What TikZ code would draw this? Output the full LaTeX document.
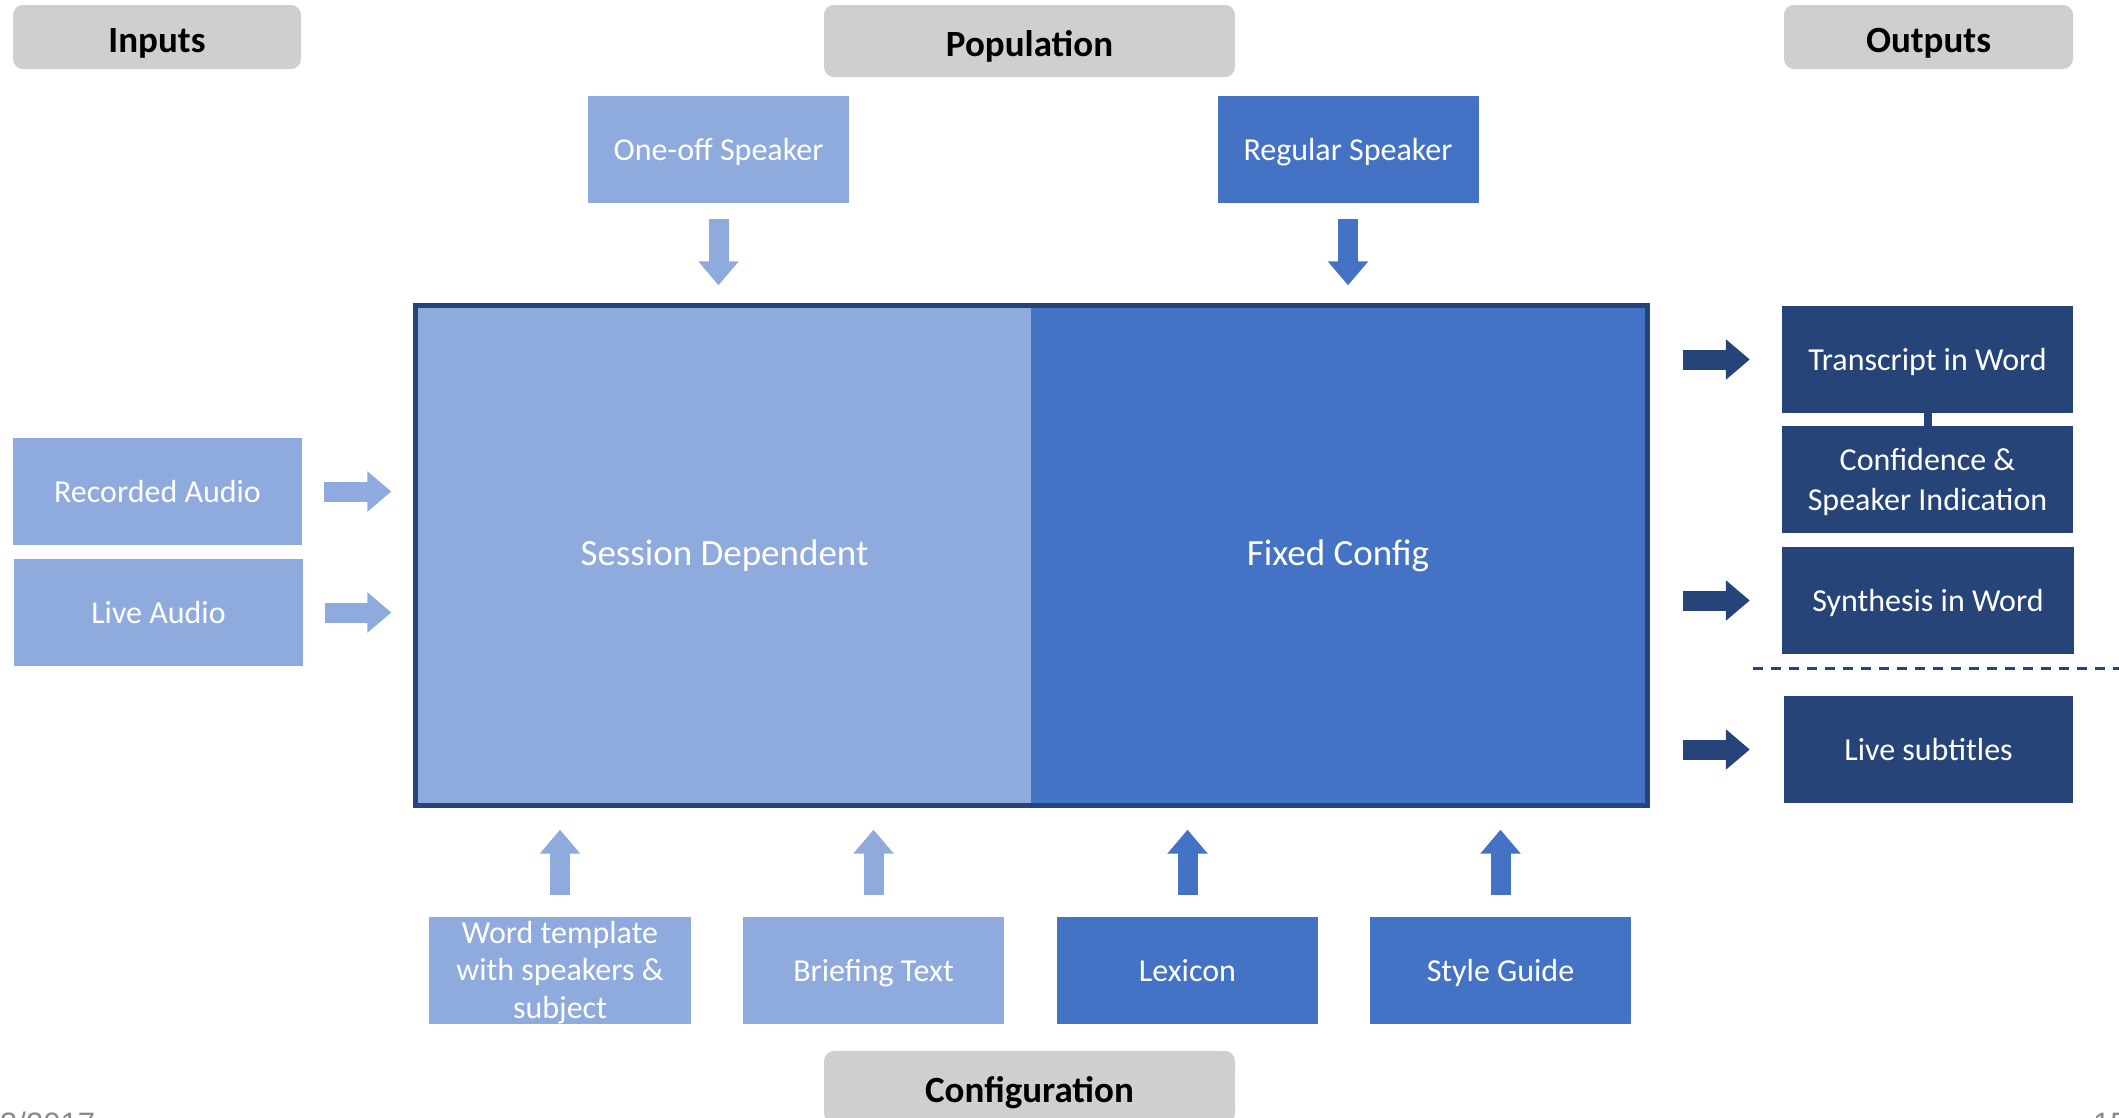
\documentclass[tikz,border=0pt]{standalone}
\usepackage{fontspec}
\setmainfont{Carlito}
\newfontfamily\footerfont{Liberation Sans}
\usetikzlibrary{arrows.meta,fit}
\definecolor{hdrgray}{HTML}{D0CECE}
\definecolor{lightblue}{HTML}{8FAADC}
\definecolor{midblue}{HTML}{4472C4}
\definecolor{navy}{HTML}{264478}
\definecolor{footgray}{HTML}{8A8A8A}

\begin{document}
\begin{tikzpicture}[x=1pt,y=-1pt,
  header/.style={fill=hdrgray, rounded corners=10pt, inner sep=0pt, text=black,
    text height=38pt, text depth=8pt,
    font=\fontsize{37}{44}\selectfont\bfseries},
  box/.style={inner sep=0pt, text=white, align=center, minimum height=107pt,
    text height=30pt, text depth=8pt,
    font=\fontsize{32}{38}\selectfont},
  lightbox/.style={box, fill=lightblue},
  midbox/.style={box, fill=midblue},
  darkbox/.style={box, fill=navy},
  bigbox/.style={minimum height=495pt, text height=28pt, text depth=9pt,
    font=\fontsize{37}{44}\selectfont},
  blk/.style={line width=20pt, -{Triangle[length=24pt, width=39pt]}},
  footer/.style={anchor=base west, inner sep=0pt, text=footgray,
    font=\footerfont\fontsize{31}{37}\selectfont}
]
\useasboundingbox (0,0) rectangle (2119,1117);
\fill[white] (0,0) rectangle (2119,1117);

% section headers
\node[header, minimum width=288pt, minimum height=64pt] (hin)  at (157,37)    {Inputs};
\node[header, minimum width=411pt, minimum height=72pt] (hpop) at (1029.5,41) {Population};
\node[header, minimum width=289pt, minimum height=64pt] (hout) at (1928.5,37) {Outputs};
\node[header, minimum width=411pt, minimum height=72pt] (hcfg) at (1029.5,1087) {Configuration};

% population
\node[lightbox, minimum width=261pt] (oneoff)  at (718.5,149.5) {One-off Speaker};
\node[midbox,   minimum width=261pt] (regular) at (1348,149.5)  {Regular Speaker};

% core processing block
\node[lightbox, bigbox, minimum width=613pt] (sess)  at (724.5,555.5) {Session Dependent};
\node[midbox,   bigbox, minimum width=614pt] (fixed) at (1338,555.5)  {Fixed Config};
\node[fit=(sess)(fixed), draw=navy, line width=5pt, inner sep=2.5pt] (main) {};

% inputs
\node[lightbox, minimum width=289pt] (rec)  at (157.5,491.5) {Recorded Audio};
\node[lightbox, minimum width=289pt] (live) at (158.5,612.5) {Live Audio};

% configuration items
\node[lightbox, minimum width=262pt, text height=100pt, text depth=5pt,
      font=\fontsize{32}{37.5}\selectfont] (tmpl) at (560,970.5)
      {Word template\\with speakers \&\\subject};
\node[lightbox, minimum width=261pt] (brief) at (873.5,970.5)  {Briefing Text};
\node[midbox,   minimum width=261pt] (lex)   at (1187.5,970.5) {Lexicon};
\node[midbox,   minimum width=261pt] (style) at (1500.5,970.5) {Style Guide};

% outputs
\node[darkbox, minimum width=291pt] (trans) at (1927.5,359.5) {Transcript in Word};
\node[darkbox, minimum width=291pt, text height=71pt, text depth=10pt,
      font=\fontsize{32}{40}\selectfont] (conf) at (1927.5,479.5)
      {Confidence \&\\Speaker Indication};
\node[darkbox, minimum width=292pt] (synth) at (1928,600.5)   {Synthesis in Word};
\node[darkbox, minimum width=289pt] (subs)  at (1928.5,749.5) {Live subtitles};
\draw[navy, line width=8pt] (trans.south) -- (conf.north);

% separator between document outputs and live outputs
\coordinate (sepL) at (1753,668.5);
\coordinate (sepR) at (2125,668.5);
\draw[navy, line width=3pt, dash pattern=on 10pt off 8pt] (sepL) -- (sepR);

% input arrows
\draw[blk, lightblue] ([xshift=22pt]rec.east)  -- ([xshift=-21.5pt]main.west |- rec.east);
\draw[blk, lightblue] ([xshift=22pt]live.east) -- ([xshift=-21.5pt]main.west |- live.east);

% population arrows
\draw[blk, lightblue] ([yshift=-16pt]oneoff.south)  -- ([yshift=17.5pt]oneoff.south |- main.north);
\draw[blk, midblue]   ([yshift=-16pt]regular.south) -- ([yshift=17.5pt]regular.south |- main.north);

% configuration arrows
\draw[blk, lightblue] ([yshift=22pt]tmpl.north)  -- ([yshift=-21.5pt]tmpl.north |- main.south);
\draw[blk, lightblue] ([yshift=22pt]brief.north) -- ([yshift=-21.5pt]brief.north |- main.south);
\draw[blk, midblue]   ([yshift=22pt]lex.north)   -- ([yshift=-21.5pt]lex.north |- main.south);
\draw[blk, midblue]   ([yshift=22pt]style.north) -- ([yshift=-21.5pt]style.north |- main.south);

% output arrows
\draw[blk, navy] ([xshift=32.5pt]main.east |- trans.west) -- ([xshift=-32pt]trans.west);
\draw[blk, navy] ([xshift=32.5pt]main.east |- synth.west) -- ([xshift=-32pt]synth.west);
\draw[blk, navy] ([xshift=32.5pt]main.east |- subs.west)  -- ([xshift=-34pt]subs.west);

% slide footer
\node[footer] (date) at (0,1134)    {3/2017};
\node[footer] (page) at (2093,1134) {15};
\end{tikzpicture}
\end{document}
